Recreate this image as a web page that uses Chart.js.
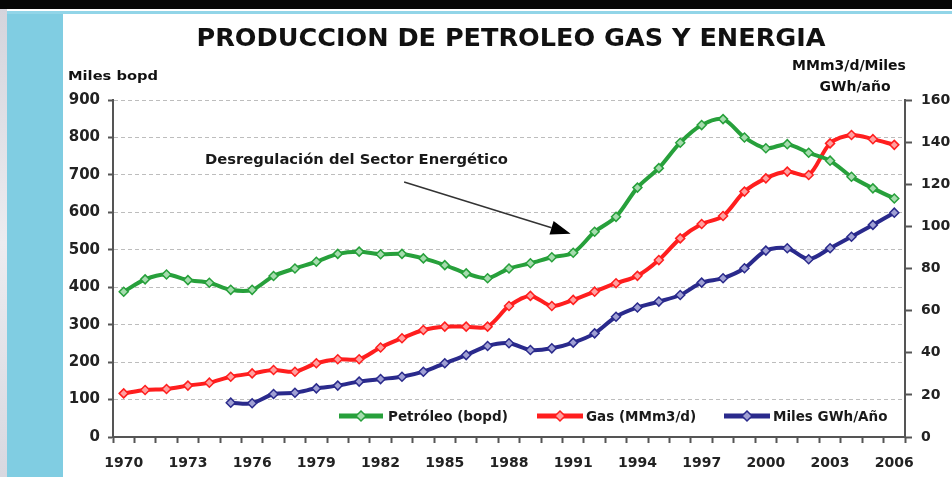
<!DOCTYPE html>
<html>
<head>
<meta charset="utf-8">
<script src="https://cdn.jsdelivr.net/npm/chart.js@4/dist/chart.umd.min.js"></script>
<style>
html,body{margin:0;padding:0;width:952px;height:477px;overflow:hidden;background:#fff;}
#bgTop{position:absolute;left:0;top:0;width:952px;height:9px;background:#060606;}
#bgLine{position:absolute;left:0;top:11px;width:952px;height:3px;background:#92d5e8;}
#bgGrey{position:absolute;left:0;top:9px;width:7px;height:468px;background:linear-gradient(#d4d4dc,#ececf0,#d8d8e0);}
#bgCyan{position:absolute;left:7px;top:14px;width:56px;height:463px;background:#80cde2;}
canvas{position:absolute;left:0;top:0;}
</style>
</head>
<body>
<div id="bgTop"></div><div id="bgLine"></div><div id="bgGrey"></div><div id="bgCyan"></div>
<canvas id="c" width="952" height="477"></canvas>
<script>
// ---- data ----
const years = ['1970','1971','1972','1973','1974','1975','1976','1977','1978','1979','1980','1981','1982','1983','1984','1985','1986','1987','1988','1989','1990','1991','1992','1993','1994','1995','1996','1997','1998','1999','2000','2001','2002','2003','2004','2005','2006'];
const shownYears = ['1970','1973','1976','1979','1982','1985','1988','1991','1994','1997','2000','2003','2006'];
const oil = [388,421,434,419,412,393,393,430,450,468,489,495,488,489,477,459,437,424,450,464,480,492,548,588,666,718,786,833,849,800,771,782,759,738,695,664,637];
const gas = [20.7,22.3,22.8,24.4,25.8,28.6,30.2,31.8,31.0,35.0,36.9,36.9,42.5,46.9,50.8,52.4,52.4,52.4,62.2,67.0,62.2,65.1,69.0,73.0,76.5,84.0,94.3,101.1,104.9,116.5,122.8,126.0,124.4,139.4,143.4,141.4,138.7];
const energy = [null,null,null,null,null,16.3,16.0,20.4,21.0,23.1,24.4,26.3,27.5,28.6,31.0,35.0,38.9,43.2,44.5,41.3,42.1,44.8,49.2,57.1,61.5,64.3,67.4,73.3,75.4,80.1,88.5,89.6,84.4,89.6,95.1,100.7,106.5];
const seriesNames = ['Petróleo (bopd)','Gas (MMm3/d)','Miles GWh/Año'];
const leftTicks = [0,100,200,300,400,500,600,700,800,900];
const rightTicks = [0,20,40,60,80,100,120,140,160];
const titleText = 'PRODUCCION DE PETROLEO GAS Y ENERGIA';
const leftTitle = 'Miles bopd';
const rightTitle = ['MMm3/d/Miles','GWh/año'];
const noteText = 'Desregulación del Sector Energético';

// ---- styles ----
const GREEN = '#27a03b', RED = '#ff1e1e', BLUE = '#2a2a8c';
const GREEN_F = '#a6dcae', RED_F = '#ffa0a0', BLUE_F = '#a0a0d4';
const FONT = '"DejaVu Sans", sans-serif';

function ds(label, data, axis, col, fill) {
  return {label, data, yAxisID: axis, borderColor: col, backgroundColor: col,
    borderWidth: 4, tension: 0.3, pointStyle: 'rectRot', pointRadius: 4.5,
    pointBorderWidth: 1.5, pointBorderColor: col, pointBackgroundColor: fill,
    spanGaps: false, fill: false};
}

const decor = {
  id: 'decor',
  afterDraw(chart) {
    const ctx = chart.ctx;
    const xs = chart.scales.x, yl = chart.scales.yL;
    ctx.save();
    ctx.fillStyle = '#111';
    // title
    ctx.font = 'bold 24px ' + FONT;
    ctx.textBaseline = 'middle';
    ctx.textAlign = 'center';
    let w = ctx.measureText(titleText).width;
    ctx.save(); ctx.translate(511, 40); ctx.scale(629 / w, 1); ctx.fillText(titleText, 0, 0); ctx.restore();
    // axis titles
    ctx.font = 'bold 13px ' + FONT;
    ctx.textAlign = 'left';
    w = ctx.measureText(leftTitle).width;
    ctx.save(); ctx.translate(68, 77); ctx.scale(90 / w, 1); ctx.fillText(leftTitle, 0, 0); ctx.restore();
    ctx.textAlign = 'center';
    ctx.font = 'bold 14px ' + FONT;
    ctx.fillText(rightTitle[0], 849, 66);
    ctx.fillText(rightTitle[1], 855, 87);
    // annotation
    ctx.font = 'bold 14px ' + FONT;
    ctx.textAlign = 'left';
    ctx.fillStyle = '#1a1a1a';
    w = ctx.measureText(noteText).width;
    ctx.save(); ctx.translate(205, 160); ctx.scale(303 / w, 1); ctx.fillText(noteText, 0, 0); ctx.restore();
    const x0 = xs.getPixelForValue(13.1), y0 = yl.getPixelForValue(681);
    const x1 = xs.getPixelForValue(20.88), y1 = yl.getPixelForValue(543);
    const ang = Math.atan2(y1 - y0, x1 - x0);
    const L = 20, H = 7;
    const bx = x1 - L * Math.cos(ang), by = y1 - L * Math.sin(ang);
    ctx.strokeStyle = '#333'; ctx.lineWidth = 1.5;
    ctx.beginPath(); ctx.moveTo(x0, y0); ctx.lineTo(bx, by); ctx.stroke();
    ctx.fillStyle = '#000';
    ctx.beginPath();
    ctx.moveTo(x1, y1);
    ctx.lineTo(bx + H * Math.sin(ang), by - H * Math.cos(ang));
    ctx.lineTo(bx - H * Math.sin(ang), by + H * Math.cos(ang));
    ctx.closePath(); ctx.fill();
    // legend
    const items = [[339, 383, 388], [537, 583, 586], [724, 770, 773]];
    const ly = 416;
    ctx.font = 'bold 13.5px ' + FONT;
    ctx.textAlign = 'left';
    chart.data.datasets.forEach((d, i) => {
      const [a, b, t] = items[i];
      ctx.strokeStyle = d.borderColor; ctx.lineWidth = 5;
      ctx.beginPath(); ctx.moveTo(a, ly); ctx.lineTo(b, ly); ctx.stroke();
      const cx = (a + b) / 2, r = 5;
      ctx.fillStyle = d.pointBackgroundColor; ctx.lineWidth = 1.5; ctx.strokeStyle = d.borderColor;
      ctx.beginPath(); ctx.moveTo(cx, ly - r); ctx.lineTo(cx + r, ly); ctx.lineTo(cx, ly + r); ctx.lineTo(cx - r, ly); ctx.closePath();
      ctx.fill(); ctx.stroke();
      ctx.fillStyle = '#1a1a1a';
      ctx.fillText(seriesNames[i], t, ly + 1);
    });
    ctx.restore();
  }
};

const tickFont = (s) => ({family: FONT, weight: 'bold', size: s});

new Chart(document.getElementById('c'), {
  type: 'line',
  data: {
    labels: years,
    datasets: [
      ds(seriesNames[0], oil, 'yL', GREEN, GREEN_F),
      ds(seriesNames[1], gas, 'yR', RED, RED_F),
      ds(seriesNames[2], energy, 'yR', BLUE, BLUE_F)
    ]
  },
  options: {
    responsive: false, animation: false, devicePixelRatio: 1,
    layout: {padding: {top: 100, left: 0, right: 0, bottom: 0}},
    plugins: {legend: {display: false}, title: {display: false}, tooltip: {enabled: false}},
    scales: {
      x: {
        type: 'category', offset: true,
        grid: {offset: true, drawOnChartArea: false, drawTicks: true, tickLength: 6, tickColor: '#555', tickWidth: 2},
        border: {color: '#555', width: 2},
        ticks: {autoSkip: false, maxRotation: 0, minRotation: 0, padding: 12, color: '#222', font: tickFont(14),
          callback: (v, i) => shownYears.includes(years[i]) ? years[i] : ''},
        afterFit: s => { s.height = 40; }
      },
      yL: {
        position: 'left', min: 0, max: 900,
        afterBuildTicks: s => { s.ticks = leftTicks.map(v => ({value: v})); },
        grid: {color: '#bdbdbd', lineWidth: 1, tickLength: 5, tickColor: '#555', tickWidth: 2},
        border: {color: '#555', width: 2, dash: [4, 3]},
        ticks: {padding: 8, color: '#222', font: tickFont(15)},
        afterFit: s => { s.width = 113; }
      },
      yR: {
        position: 'right', min: 0, max: 160,
        afterBuildTicks: s => { s.ticks = rightTicks.map(v => ({value: v})); },
        grid: {drawOnChartArea: false, tickLength: 7, tickColor: '#555', tickWidth: 2},
        border: {color: '#555', width: 2},
        ticks: {padding: 9, color: '#222', font: tickFont(14)},
        afterFit: s => { s.width = 47; }
      }
    }
  },
  plugins: [decor]
});
</script>
</body>
</html>
